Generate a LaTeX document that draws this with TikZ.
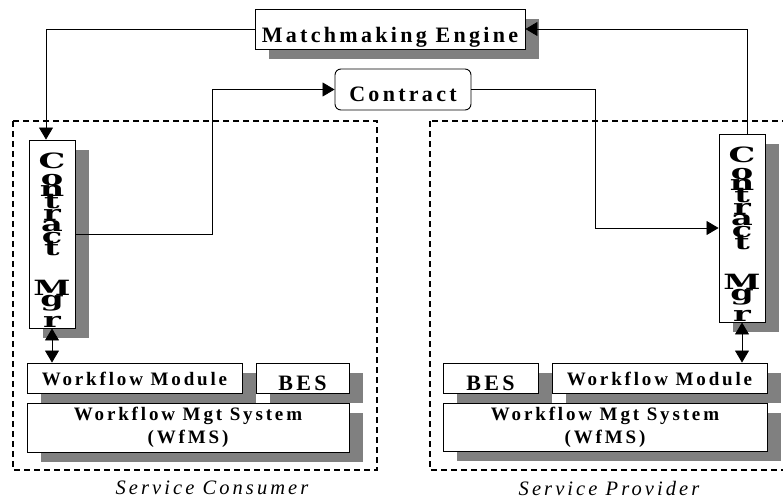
\documentclass[tikz,border=0pt]{standalone}
\usepackage{fontspec}
\usepackage{graphicx}
\usepackage{tikz}
\usetikzlibrary{arrows.meta, shadows}
\newfontfamily\boxfont{Liberation Serif}[LetterSpace=15]
\newfontfamily\mgrfont{DejaVu Serif}
\newcommand\wl[1]{\scalebox{1.6}[1]{#1}}
\newcommand\mgrtext{\rule{0pt}{28pt}\wl{C}\\[5.3pt]\wl{o}\\\wl{n}\\\wl{t}\\\wl{r}\\\wl{a}\\\wl{c}\\\wl{t}\\[28.3pt]\wl{M}\\\wl{g}\\[9.3pt]\wl{r}}

\tikzset{
  box/.style={draw, line width=0.9pt, fill=white, inner sep=0pt,
    drop shadow={shadow xshift=14pt, shadow yshift=-10pt, fill=black!50, opacity=1}},
  mgr/.style={box, minimum width=46pt, minimum height=188pt, align=center,
    font={\mgrfont\bfseries\fontsize{21}{11.7}\selectfont\lineskiplimit=-50pt}},
  link/.style={line width=0.8pt, -{Triangle[length=12pt,width=14pt]}},
  twoway/.style={line width=0.8pt, {Triangle[length=12pt,width=14pt]}-{Triangle[length=12pt,width=14pt]}},
  dashbox/.style={line width=1.2pt, dash pattern=on 6pt off 4pt},
  big/.style={font=\boxfont\bfseries\fontsize{22}{24}\selectfont, text depth=0pt},
  small/.style={font=\boxfont\bfseries\fontsize{19}{23}\selectfont},
  side/.style={font=\boxfont\itshape\fontsize{20.5}{22}\selectfont}
}

\begin{document}
\begin{tikzpicture}[x=1pt, y=-1pt]
\useasboundingbox (0,0) rectangle (783,498);

\draw[dashbox] (13,121) rectangle (377,470);
\draw[dashbox] (430,121) rectangle (800,470);

\node (me) at (390,29) [box, big, text height=26pt, minimum width=270pt, minimum height=40pt] {Matchmaking Engine};
\node (ct) at (403,89.5) [draw, line width=0.9pt, rounded corners=6pt, big, text height=23pt, minimum width=136pt, minimum height=41pt] {Contract};

\node (cmL) at (52,234) [mgr] {\mgrtext};
\node (cmR) at (742,228) [mgr] {\mgrtext};

\node (wmL) at (134.5,378) [box, small, text height=14pt, text depth=0pt, minimum width=215pt, minimum height=30pt] {Workflow Module};
\node (besL) at (302.5,378) [box, big, text height=24pt, minimum width=93pt, minimum height=30pt] {BES};
\node (wfL) at (188,427.5) [box, small, align=center, minimum width=322pt, minimum height=49pt] {Workflow Mgt System\\(WfMS)};

\node (besR) at (490.5,378) [box, big, text height=24pt, minimum width=95pt, minimum height=30pt] {BES};
\node (wmR) at (659.5,378) [box, small, text height=14pt, text depth=0pt, minimum width=215pt, minimum height=30pt] {Workflow Module};
\node (wfR) at (605,427) [box, small, align=center, minimum width=324pt, minimum height=48pt] {Workflow Mgt System\\(WfMS)};

\node (consumer) at (212,488) [side] {Service Consumer};
\node (provider) at (609,488) [side] {Service Provider};

\coordinate (bendL) at (212,0);
\coordinate (bendR) at (595,0);

\draw[link] (me.west) -| ([xshift=-6pt]cmL.north);
\draw[link] ([xshift=5pt]cmR.north) |- (me.east);
\draw[link] (cmL.east) -- (bendL |- cmL.east) |- (ct.west);
\draw[link] (ct.east) -- (bendR |- ct.east) |- (cmR.west);
\draw[twoway] (cmL.south) -- (cmL.south |- wmL.north);
\draw[twoway] (cmR.south) -- (cmR.south |- wmR.north);

\end{tikzpicture}
\end{document}
